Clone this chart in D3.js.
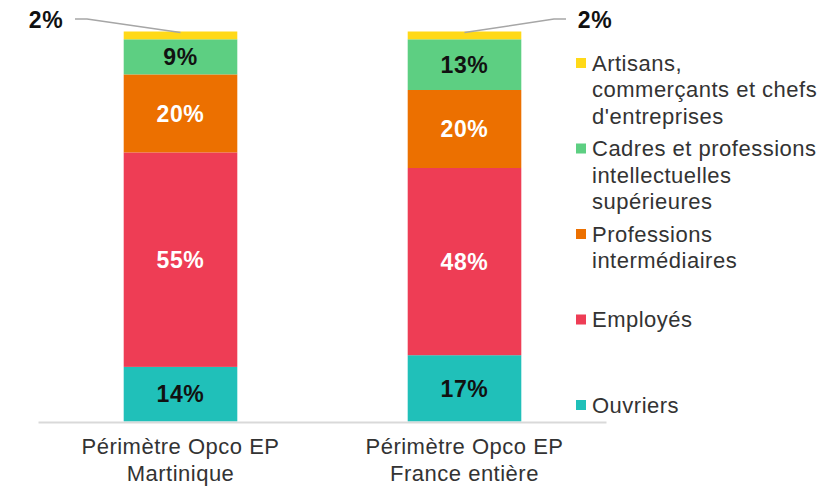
<!DOCTYPE html>
<html>
<head>
<meta charset="utf-8">
<script src="https://cdn.jsdelivr.net/npm/d3@7"></script>
<style>
  body { margin: 0; background: #fff; }
  svg { display: block; font-family: "Liberation Sans", Arial, sans-serif; }
</style>
</head>
<body>
<script>
'use strict';

// categories (two lines each)
const categories = ["Martinique", "France"];
const categoryLabels = [
  ["Périmètre Opco EP", "Martinique"],
  ["Périmètre Opco EP", "France entière"]
];

// series, bottom to top
const seriesKeys = ["ouvriers", "employes", "intermediaires", "cadres", "artisans"];
const seriesLabels = [
  ["Ouvriers"],
  ["Employés"],
  ["Professions", "intermédiaires"],
  ["Cadres et professions", "intellectuelles", "supérieures"],
  ["Artisans,", "commerçants et chefs", "d'entreprises"]
];
const seriesColors = ["#20c0b9", "#ee3d55", "#ec7000", "#5dcf82", "#ffd918"];
const labelColors = ["#111", "#fff", "#fff", "#111", "#111"];

const ouvriers = [14, 17];
const employes = [55, 48];
const intermediaires = [20, 20];
const cadres = [9, 13];
const artisans = [2, 2];

(function() {
  const width = 835, height = 486;

  let rows = categories.map((c, i) => ({
    cat: c,
    ouvriers: ouvriers[i],
    employes: employes[i],
    intermediaires: intermediaires[i],
    cadres: cadres[i],
    artisans: artisans[i]
  }));

  let stacked = d3.stack().keys(seriesKeys)(rows);

  let svg = d3.select('body').append('svg')
    .attr('width', width)
    .attr('height', height);

  let xScale = d3.scaleBand()
    .domain(categories)
    .range([38.5, 606.5])
    .paddingInner(0.6)
    .paddingOuter(0.3);

  let yScale = d3.scaleLinear()
    .domain([0, 100])
    .range([421.5, 31.5]);

  // bars
  stacked.forEach((layer, si) => {
    let g = svg.append('g');
    g.selectAll('rect')
      .data(layer)
      .enter()
      .append('rect')
        .attr('x', d => xScale(d.data.cat))
        .attr('y', d => yScale(d[1]))
        .attr('width', xScale.bandwidth())
        .attr('height', d => yScale(d[0]) - yScale(d[1]))
        .attr('fill', seriesColors[si]);

    // inside labels (skip the thin top segment)
    if (seriesKeys[si] !== 'artisans') {
      g.selectAll('text')
        .data(layer)
        .enter()
        .append('text')
          .attr('x', d => xScale(d.data.cat) + xScale.bandwidth() / 2)
          .attr('y', d => (yScale(d[0]) + yScale(d[1])) / 2)
          .attr('dy', '0.36em')
          .attr('text-anchor', 'middle')
          .style('font-size', '23px')
          .style('font-weight', 'bold')
          .style('letter-spacing', '0.6px')
          .attr('fill', labelColors[si])
          .text(d => (d[1] - d[0]) + '%');
    }
  });

  // outside labels for the thin top segment, with leader lines
  let topLayer = stacked[seriesKeys.indexOf('artisans')];
  let callouts = [
    { lx: 46, side: -1 },
    { lx: 595, side: 1 }
  ];
  topLayer.forEach((d, i) => {
    let cx = xScale(d.data.cat) + xScale.bandwidth() / 2;
    let cy = yScale(d[1]) + 1;
    let ly = 20;
    let c = callouts[i];
    let start = c.lx - c.side * 29;
    let elbow = c.lx - c.side * 41;
    svg.append('path')
      .attr('d', `M${start},${ly - 1}L${elbow},${ly - 1}L${cx},${cy}`)
      .attr('fill', 'none')
      .attr('stroke', '#a6a6a6')
      .attr('stroke-width', 1.5);
    svg.append('text')
      .attr('x', c.lx)
      .attr('y', ly)
      .attr('dy', '0.36em')
      .attr('text-anchor', 'middle')
      .style('font-size', '23px')
      .style('font-weight', 'bold')
      .style('letter-spacing', '0.6px')
      .attr('fill', '#111')
      .text((d[1] - d[0]) + '%');
  });

  // x axis line
  svg.append('line')
    .attr('x1', 38.5).attr('x2', 606.5)
    .attr('y1', 422.5).attr('y2', 422.5)
    .attr('stroke', '#d9d9d9')
    .attr('stroke-width', 2);

  // category labels
  categories.forEach((c, i) => {
    let t = svg.append('text')
      .attr('x', xScale(c) + xScale.bandwidth() / 2)
      .attr('y', 446)
      .attr('text-anchor', 'middle')
      .style('font-size', '22px')
      .style('letter-spacing', '0.5px')
      .attr('fill', '#333');
    categoryLabels[i].forEach((line, li) => {
      t.append('tspan')
        .attr('x', xScale(c) + xScale.bandwidth() / 2)
        .attr('y', 446 + li * 27)
        .attr('dy', '0.36em')
        .text(line);
    });
  });

  // legend, top entry first
  let legendOrder = seriesKeys.slice().reverse();
  let legendY = d3.scalePoint()
    .domain(legendOrder)
    .range([63, 405]);

  legendOrder.forEach(k => {
    let si = seriesKeys.indexOf(k);
    let y0 = legendY(k);
    svg.append('rect')
      .attr('x', 576)
      .attr('y', y0 - 5)
      .attr('width', 10)
      .attr('height', 10)
      .attr('fill', seriesColors[si]);
    let t = svg.append('text')
      .style('font-size', '22px')
      .style('letter-spacing', '0.5px')
      .attr('fill', '#333');
    seriesLabels[si].forEach((line, li) => {
      t.append('tspan')
        .attr('x', 592)
        .attr('y', y0 + li * 26.5)
        .attr('dy', '0.36em')
        .text(line);
    });
  });
})();
</script>
</body>
</html>
